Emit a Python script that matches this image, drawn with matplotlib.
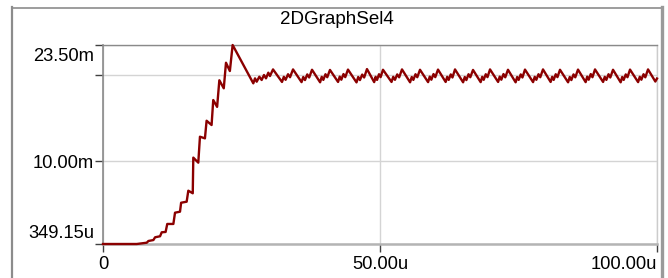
import matplotlib
matplotlib.use("Agg")
import matplotlib.pyplot as plt
from matplotlib.lines import Line2D
from matplotlib.transforms import ScaledTranslation

plt.rcParams['font.family'] = ['Liberation Sans', 'DejaVu Sans']

title = "2DGraphSel4"

# time in microseconds
t_us = [
    0.0, 6.1, 7.9, 8.2, 9.1, 9.4, 10.3, 10.6, 11.3, 11.6, 12.7, 13.0, 13.9, 14.1,
    15.1, 15.4, 16.2, 16.3, 17.2, 17.5, 18.4, 18.7, 19.6, 19.9, 20.6, 21.0, 21.8,
    22.2, 22.9, 23.4, 27.13, 27.44, 27.74, 28.22, 28.64, 29.06, 29.42, 29.84, 30.14,
    30.69, 32.31, 32.64, 32.96, 33.40, 33.76,
    34.30, 35.84, 36.15, 36.46, 36.87, 37.22,
    37.73, 39.19, 39.48, 39.77, 40.16, 40.48,
    40.97, 42.43, 42.73, 43.02, 43.41, 43.73,
    44.22, 45.76, 46.07, 46.38, 46.79, 47.14,
    47.65, 48.95, 49.21, 49.47, 49.82, 50.11,
    50.54, 52.08, 52.39, 52.70, 53.11, 53.46,
    53.97, 55.43, 55.73, 56.02, 56.41, 56.73,
    57.22, 58.68, 58.98, 59.27, 59.66, 59.98,
    60.47, 61.85, 62.13, 62.40, 62.77, 63.08,
    63.54, 65.00, 65.30, 65.59, 65.98, 66.30,
    66.79, 68.17, 68.45, 68.72, 69.09, 69.40,
    69.86, 71.32, 71.61, 71.90, 72.29, 72.61,
    73.10, 74.48, 74.76, 75.03, 75.40, 75.71,
    76.17, 77.63, 77.93, 78.22, 78.61, 78.93,
    79.42, 80.80, 81.08, 81.35, 81.72, 82.03,
    82.49, 83.95, 84.25, 84.54, 84.93, 85.25,
    85.74, 87.12, 87.40, 87.67, 88.04, 88.35,
    88.81, 90.27, 90.57, 90.86, 91.25, 91.57,
    92.06, 93.44, 93.72, 93.99, 94.36, 94.67,
    95.13, 96.59, 96.89, 97.18, 97.57, 97.89,
    98.38, 99.70, 100.0,
]

# signal in milli-units
v_m = [
    0.349, 0.349, 0.50, 0.70, 0.81, 1.13, 1.25, 1.71, 1.75, 2.68, 2.68, 3.99, 4.11, 5.15,
    5.27, 6.55, 6.25, 10.4, 9.81, 12.83, 12.64, 14.69, 14.19, 17.1, 16.3, 19.4, 18.46,
    21.44, 20.47, 23.5, 19.04, 19.62, 19.23, 19.81, 19.43, 20.01, 19.62, 20.28, 19.89,
    20.66, 19.20, 19.80, 19.45, 20.10, 19.75,
    20.66, 19.18, 19.78, 19.42, 20.08, 19.72,
    20.62, 19.16, 19.80, 19.44, 20.10, 19.75,
    20.60, 19.20, 19.82, 19.46, 20.12, 19.76,
    20.64, 19.15, 19.78, 19.42, 20.06, 19.72,
    20.70, 19.18, 19.80, 19.44, 20.10, 19.76,
    20.62, 19.20, 19.80, 19.45, 20.08, 19.74,
    20.66, 19.16, 19.78, 19.44, 20.10, 19.75,
    20.62, 19.18, 19.82, 19.46, 20.12, 19.76,
    20.64, 19.20, 19.80, 19.44, 20.08, 19.72,
    20.66, 19.16, 19.78, 19.42, 20.10, 19.75,
    20.60, 19.18, 19.80, 19.45, 20.10, 19.76,
    20.66, 19.20, 19.82, 19.46, 20.12, 19.74,
    20.62, 19.16, 19.78, 19.44, 20.08, 19.72,
    20.64, 19.18, 19.80, 19.45, 20.10, 19.75,
    20.66, 19.20, 19.80, 19.44, 20.10, 19.76,
    20.62, 19.16, 19.78, 19.42, 20.08, 19.74,
    20.64, 19.18, 19.82, 19.46, 20.12, 19.75,
    20.66, 19.20, 19.80, 19.44, 20.10, 19.72,
    20.62, 19.16, 19.78, 19.44, 20.08, 19.75,
    20.64, 19.18, 19.80, 19.46, 20.10, 19.74,
    20.66, 19.25, 19.60,
]

x_ticks = [0, 50, 100]
x_tick_labels = ["0", "50.00u", "100.00u"]
y_ticks = [0.34915, 10, 20, 23.5]
y_tick_labels = ["349.15u", "10.00m", "", "23.50m"]

W, H = 668, 278
fig = plt.figure(figsize=(W / 100, H / 100), dpi=100)
fig.patch.set_facecolor("white")

# outer panel frame
fig.add_artist(Line2D([12 / W, 12 / W], [0, 1 - 7 / H], transform=fig.transFigure,
                      color="#8c8c8c", lw=1.6))
fig.add_artist(Line2D([12 / W, 662 / W], [1 - 7.5 / H, 1 - 7.5 / H], transform=fig.transFigure,
                      color="#8c8c8c", lw=1.2))
fig.add_artist(Line2D([662 / W, 662 / W], [0, 1 - 7 / H], transform=fig.transFigure,
                      color="#9a9a9a", lw=2.4))

ax = fig.add_axes([103 / W, 1 - 244 / H, (657 - 103) / W, (244 - 45) / H])
ax.set_facecolor("white")
ax.plot(t_us, v_m, color="#8b0000", lw=1.7, clip_on=False, zorder=3)

ax.set_xlim(0, 100)
ax.set_ylim(0.34915, 23.5)

ax.set_xticks(x_ticks)
ax.set_xticklabels(x_tick_labels)
ax.set_yticks(y_ticks)
ax.set_yticklabels(y_tick_labels)

ax.grid(True, color="#d4d4d4", lw=1.0)
ax.set_axisbelow(True)

for s, c, w in [("left", "#8a8a8a", 1.2), ("bottom", "#b4b4b4", 1.8),
                ("top", "#8a8a8a", 1.0), ("right", "#cccccc", 1.0)]:
    ax.spines[s].set_color(c)
    ax.spines[s].set_linewidth(w)

ax.tick_params(axis="y", length=5.5, width=1, color="#404040", pad=1, labelsize=13.2,
               labelcolor="black")
ax.tick_params(axis="x", length=6, width=1, color="#404040", pad=2.5, labelsize=13.2,
               labelcolor="black")

ylabels = ax.get_yticklabels()
ylabels[0].set_verticalalignment("bottom")
ylabels[0].set_transform(ylabels[0].get_transform() +
                         ScaledTranslation(0, 2 / 100, fig.dpi_scale_trans))
ylabels[3].set_verticalalignment("top")
ylabels[3].set_transform(ylabels[3].get_transform() +
                         ScaledTranslation(0, -3 / 100, fig.dpi_scale_trans))
xlabels = ax.get_xticklabels()
xlabels[2].set_horizontalalignment("right")

fig.text(337 / W, 1 - 19 / H, title, ha="center", va="center", fontsize=13.5)

fig.savefig("out.png", dpi=100)
